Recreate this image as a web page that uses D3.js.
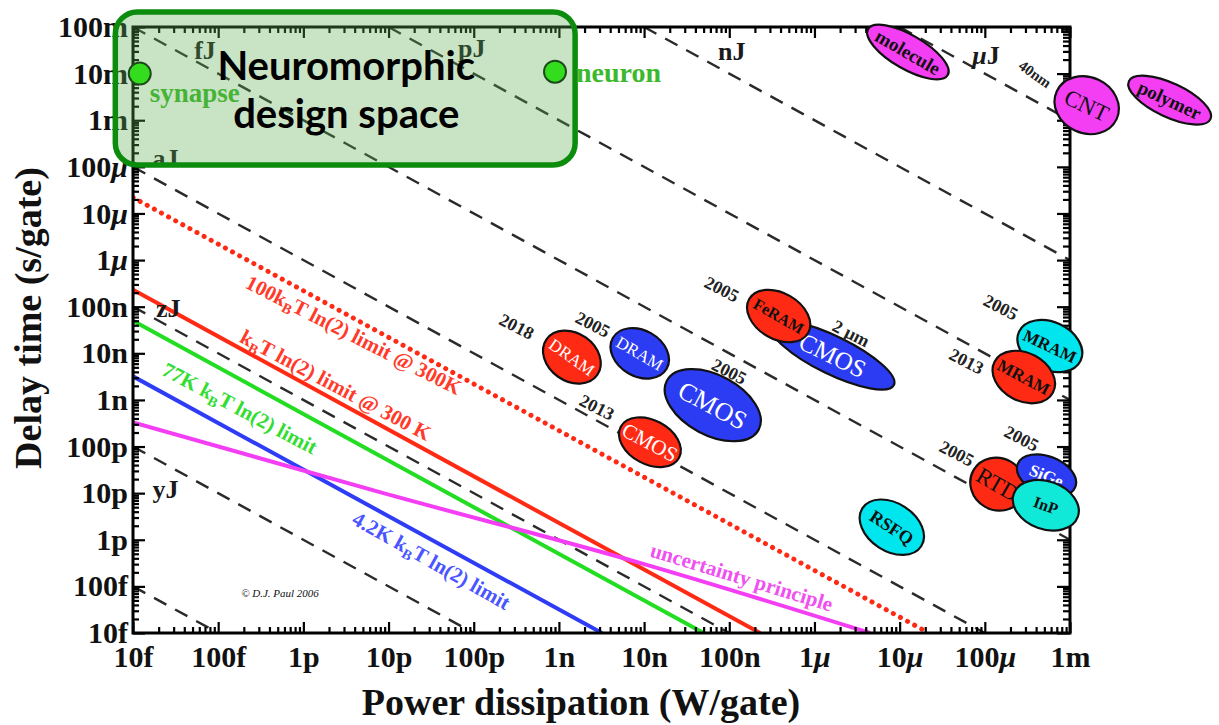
<!DOCTYPE html>
<html>
<head>
<meta charset="utf-8">
<script src="https://cdn.jsdelivr.net/npm/d3@7"></script>
<style>
  body { margin: 0; background: #fff; }
  svg text { font-family: "Liberation Serif", "Times New Roman", serif; }
</style>
</head>
<body>
<div id="chart"></div>
<script>
// ---- data ----
// decade ticks (exponents) and their labels
const tickExp = [-14, -13, -12, -11, -10, -9, -8, -7, -6, -5, -4, -3, -2, -1];
const tickLabels = ["10f", "100f", "1p", "10p", "100p", "1n", "10n", "100n", "1μ", "10μ", "100μ", "1m", "10m", "100m"];

// constant energy lines (J), every 3 decades
const energyLevels = [1e-27, 1e-24, 1e-21, 1e-18, 1e-15, 1e-12, 1e-9, 1e-6];
const energyNames = ["yJ", "zJ", "aJ", "fJ", "pJ", "nJ", "μJ"];
const energyLabelP = [2.4e-14, 2.6e-14, 2.4e-14, 7.0e-14, 9.5e-11, 1.07e-7, 1.03e-4];
const energyLabelT = [1.22e-11, 9.3e-8, 1.55e-4, 3.2e-2, 3.5e-2, 3.1e-2, 2.5e-2];

// switching energy limits (J)
const limitNames = ["100k_BT ln(2) limit @ 300K", "k_BT ln(2) limit @ 300 K", "77K k_BT ln(2) limit", "4.2K k_BT ln(2) limit"];
const limitEnergy = [2.2e-19, 2.3e-21, 5.0e-22, 3.2e-23];
const limitLabelP = [3.9e-12, 2.4e-12, 1.8e-13, 3.2e-11];
const limitLabelT = [2.5e-8, 2.1e-9, 6.7e-10, 3.6e-13];

// uncertainty principle curve
const uncertP = [1e-14, 7.9e-12, 8.9e-9, 4.5e-6];
const uncertT = [3.3e-10, 1.05e-11, 3.2e-13, 1e-14];
const uncertLabel = { name: "uncertainty principle", p: 1.4e-7, t: 1.6e-13 };

// technologies
const techNames = ["molecule", "CNT", "polymer", "DRAM", "DRAM", "CMOS", "CMOS", "CMOS", "FeRAM", "MRAM", "MRAM", "RTD", "SiGe", "InP", "RSFQ"];
const techPower = [1.25e-5, 1.57e-3, 1.48e-2, 1.42e-9, 8.9e-9, 6.4e-8, 1.17e-8, 1.64e-6, 3.8e-7, 5.8e-4, 2.87e-4, 1.42e-4, 5.3e-4, 5.2e-4, 8.1e-6];
const techDelay = [2.9e-2, 2.1e-3, 2.7e-3, 8.3e-9, 1.0e-8, 7.7e-10, 1.24e-10, 9.1e-9, 6.3e-8, 1.43e-8, 3.1e-9, 1.56e-11, 2.4e-11, 5.5e-12, 1.86e-12];

// year / node annotations
const noteText = ["2018", "2005", "2005", "2013", "2005", "2 μm", "2005", "2013", "2005", "2005", "40nm"];
const noteP = [3.2e-10, 2.5e-9, 1.0e-7, 2.8e-9, 8.2e-8, 2.7e-6, 1.54e-4, 6.1e-5, 2.7e-4, 4.7e-5, 3.9e-4];
const noteT = [3.8e-8, 4.2e-8, 4.1e-9, 7.0e-10, 2.4e-7, 2.7e-8, 9.8e-8, 6.8e-9, 1.5e-10, 7.2e-11, 9.8e-3];

// neuromorphic region
const neuroNames = ["synapse", "neuron"];
const neuroP = [1.2e-14, 0.9e-9];
const neuroT = [1.0e-2, 1.1e-2];
const boxP = [6.2e-15, 1.55e-9];
const boxT = [1.1e-4, 0.21];

// ---- styles ----
const RED = "#ff2a14", BLUE = "#2b3cf2", MAGENTA = "#f43ef4", CYAN = "#00e6ee";
const techStyle = [ // fill, text colour, rx, ry, angle, font size, bold
  [MAGENTA, "#111", 46, 17, 30, 19, true],
  [MAGENTA, "#111", 33, 28, 25, 23, false],
  [MAGENTA, "#111", 45, 17, 25, 19, true],
  [RED, "#fff", 31, 24, 35, 17, false],
  [BLUE, "#fff", 31, 23, 30, 17, false],
  [BLUE, "#fff", 52, 30, 28, 26, false],
  [RED, "#fff", 33, 22, 28, 21, false],
  [BLUE, "#fff", 68, 19, 26, 25, false],
  [RED, "#111", 34, 23, 30, 16, true],
  [CYAN, "#111", 34, 24, 25, 17, true],
  [RED, "#111", 33, 24, 28, 17, true],
  [RED, "#111", 28, 26, 30, 23, false],
  [BLUE, "#fff", 31, 19, 22, 17, true],
  ["#10e8d8", "#111", 34, 24, 20, 16, true],
  [CYAN, "#111", 35, 24, 33, 18, true]
];
const limitColor = [RED, RED, "#22dd22", "#2f3cf5"];
const limitLabelColor = ["#ff3a2a", "#ff3a2a", "#33dd33", "#4a55ff"];

const W = 1219, H = 725;
const X0 = 133, X1 = 1070, Y0 = 27, Y1 = 633;

const svg = d3.select("#chart").append("svg").attr("width", W).attr("height", H);
const x = d3.scaleLog().domain([1e-14, 1e-3]).range([X0, X1]);
const y = d3.scaleLog().domain([1e-14, 1e-1]).range([Y1, Y0]);

svg.append("clipPath").attr("id", "plotclip")
  .append("rect").attr("x", X0).attr("y", Y0).attr("width", X1 - X0).attr("height", Y1 - Y0);

const line = d3.line().x(d => x(d[0])).y(d => y(d[1]));
const plot = svg.append("g").attr("clip-path", "url(#plotclip)");

// iso-energy lines t = E / P
function energySegment(E) {
  const p0 = Math.max(1e-14, E / 1e-1), p1 = Math.min(1e-3, E / 1e-14);
  return [[p0, E / p0], [p1, E / p1]];
}

plot.selectAll(".energy")
  .data(energyLevels)
  .enter()
  .append("path")
  .attr("class", "energy")
  .attr("d", d => line(energySegment(d)))
  .attr("fill", "none")
  .attr("stroke", "#2a2a2a")
  .attr("stroke-width", 2.4)
  .attr("stroke-dasharray", "14,10");

plot.selectAll(".limit")
  .data(limitEnergy)
  .enter()
  .append("path")
  .attr("class", "limit")
  .attr("d", d => line(energySegment(d)))
  .attr("fill", "none")
  .attr("stroke", (d, i) => limitColor[i])
  .attr("stroke-width", (d, i) => i === 0 ? 5 : 4)
  .attr("stroke-linecap", (d, i) => i === 0 ? "round" : "butt")
  .attr("stroke-dasharray", (d, i) => i === 0 ? "0.1,8" : null);

plot.append("path")
  .datum(uncertP.map((p, i) => [p, uncertT[i]]))
  .attr("d", line.curve(d3.curveMonotoneX))
  .attr("fill", "none")
  .attr("stroke", MAGENTA)
  .attr("stroke-width", 4);
line.curve(d3.curveLinear);

// ---- axes ----
const majorVals = tickExp.map(e => Math.pow(10, e));
const minorVals = [];
tickExp.slice(0, -1).forEach(e => { for (let k = 2; k < 10; k++) minorVals.push(k * Math.pow(10, e)); });
const labelOf = v => tickLabels[tickExp.indexOf(Math.round(Math.log10(v)))];
const xMajor = majorVals.filter(v => v <= 1e-3);
const xMinor = minorVals.filter(v => v < 1e-3);

function styleAxis(g, fmt) {
  g.select(".domain").remove();
  g.selectAll("line").attr("stroke", "#000").attr("stroke-width", 2.2);
  if (!fmt) return;
  g.selectAll("text")
    .attr("font-size", 30)
    .attr("font-weight", "bold")
    .attr("fill", "#111")
    .each(function(d) {
      const s = labelOf(d);
      const t = d3.select(this).text(null);
      if (s.includes("μ")) {
        t.append("tspan").text(s.replace("μ", ""));
        t.append("tspan").attr("font-style", "italic").text("μ");
      } else {
        t.text(s);
      }
    });
}

svg.append("g").attr("transform", `translate(0,${Y1})`)
  .call(d3.axisBottom(x).tickValues(xMajor).tickSize(-11).tickPadding(13).tickFormat(labelOf))
  .call(g => styleAxis(g, true));
svg.append("g").attr("transform", `translate(0,${Y1})`)
  .call(d3.axisBottom(x).tickValues(xMinor).tickSize(-6).tickFormat(""))
  .call(g => styleAxis(g, false));
svg.append("g").attr("transform", `translate(0,${Y0})`)
  .call(d3.axisTop(x).tickValues(xMajor).tickSize(-11).tickFormat(""))
  .call(g => styleAxis(g, false));
svg.append("g").attr("transform", `translate(0,${Y0})`)
  .call(d3.axisTop(x).tickValues(xMinor).tickSize(-6).tickFormat(""))
  .call(g => styleAxis(g, false));

svg.append("g").attr("transform", `translate(${X0},0)`)
  .call(d3.axisLeft(y).tickValues(majorVals).tickSize(-12).tickPadding(5).tickFormat(labelOf))
  .call(g => styleAxis(g, true));
svg.append("g").attr("transform", `translate(${X0},0)`)
  .call(d3.axisLeft(y).tickValues(minorVals).tickSize(-6).tickFormat(""))
  .call(g => styleAxis(g, false));
svg.append("g").attr("transform", `translate(${X1},0)`)
  .call(d3.axisRight(y).tickValues(majorVals).tickSize(-13).tickFormat(""))
  .call(g => styleAxis(g, false));
svg.append("g").attr("transform", `translate(${X1},0)`)
  .call(d3.axisRight(y).tickValues(minorVals).tickSize(-7).tickFormat(""))
  .call(g => styleAxis(g, false));

svg.append("rect")
  .attr("x", X0).attr("y", Y0).attr("width", X1 - X0).attr("height", Y1 - Y0)
  .attr("fill", "none").attr("stroke", "#000").attr("stroke-width", 3);

// axis titles
svg.append("text")
  .attr("x", 581).attr("y", 715)
  .attr("text-anchor", "middle")
  .attr("font-size", 38).attr("font-weight", "bold").attr("fill", "#111")
  .text("Power dissipation (W/gate)");
svg.append("text")
  .attr("transform", "translate(41,318) rotate(-90)")
  .attr("text-anchor", "middle")
  .attr("font-size", 38).attr("font-weight", "bold").attr("fill", "#111")
  .text("Delay time (s/gate)");

// ---- labels ----
svg.selectAll(".elabel")
  .data(energyNames)
  .enter()
  .append("text")
  .attr("class", "elabel")
  .attr("x", (d, i) => x(energyLabelP[i]))
  .attr("y", (d, i) => y(energyLabelT[i]))
  .attr("dy", "0.35em")
  .attr("text-anchor", "middle")
  .attr("font-size", 26).attr("font-weight", "bold").attr("fill", "#1a1a1a")
  .each(function(d) {
    const t = d3.select(this);
    if (d.startsWith("μ")) {
      t.append("tspan").attr("font-style", "italic").text("μ");
      t.append("tspan").text("J");
    } else t.text(d);
  });

function richText(sel, str, size) {
  // "_X" marks a subscript character
  const parts = str.split(/_(.)/);
  parts.forEach((p, i) => {
    if (!p) return;
    if (i % 2 === 1) {
      sel.append("tspan").attr("font-size", size * 0.68).attr("dy", size * 0.22).text(p);
    } else {
      const t = sel.append("tspan").text(p);
      if (i > 0) t.attr("dy", -size * 0.22);
    }
  });
}

const limitAngle = [27, 28, 28, 29.5];
limitNames.forEach((name, i) => {
  const t = svg.append("text")
    .attr("transform", `translate(${x(limitLabelP[i])},${y(limitLabelT[i])}) rotate(${limitAngle[i]})`)
    .attr("text-anchor", "middle").attr("dy", "0.35em")
    .attr("font-size", 21).attr("font-weight", "bold").attr("fill", limitLabelColor[i]);
  richText(t, name, 21);
});

svg.append("text")
  .attr("transform", `translate(${x(uncertLabel.p)},${y(uncertLabel.t)}) rotate(17)`)
  .attr("text-anchor", "middle").attr("dy", "0.35em")
  .attr("font-size", 21).attr("font-weight", "bold").attr("fill", "#f050f0")
  .text(uncertLabel.name);

svg.append("text")
  .attr("x", 280).attr("y", 597)
  .attr("text-anchor", "middle")
  .attr("font-size", 11).attr("font-style", "italic").attr("fill", "#111")
  .text("© D.J. Paul 2006");

// ---- technology ellipses ----
const tech = svg.selectAll(".tech")
  .data(techNames)
  .enter()
  .append("g")
  .attr("class", "tech")
  .attr("transform", (d, i) => `translate(${x(techPower[i])},${y(techDelay[i])}) rotate(${techStyle[i][4]})`);

tech.append("ellipse")
  .attr("rx", (d, i) => techStyle[i][2])
  .attr("ry", (d, i) => techStyle[i][3])
  .attr("fill", (d, i) => techStyle[i][0])
  .attr("stroke", "#111")
  .attr("stroke-width", 2.2);

tech.append("text")
  .attr("text-anchor", "middle").attr("dy", "0.35em")
  .attr("font-size", (d, i) => techStyle[i][5])
  .attr("font-weight", (d, i) => techStyle[i][6] ? "bold" : "normal")
  .attr("fill", (d, i) => techStyle[i][1])
  .text(d => d);

svg.selectAll(".note")
  .data(noteText)
  .enter()
  .append("text")
  .attr("class", "note")
  .attr("transform", (d, i) => `translate(${x(noteP[i])},${y(noteT[i])}) rotate(${i === 10 ? 35 : 27})`)
  .attr("text-anchor", "middle").attr("dy", "0.35em")
  .attr("font-size", (d, i) => i === 10 ? 15 : 18)
  .attr("font-weight", "bold").attr("fill", "#222")
  .text(d => d);

// ---- neuromorphic design space ----
svg.append("text")
  .attr("x", x(neuroP[0]) + 10).attr("y", y(neuroT[0]) + 28)
  .attr("font-size", 27).attr("font-weight", "bold").attr("fill", "#3cb82c")
  .text(neuroNames[0]);

const bx0 = x(boxP[0]), bx1 = x(boxP[1]), by0 = y(boxT[1]), by1 = y(boxT[0]);
svg.append("rect")
  .attr("x", bx0).attr("y", by0).attr("width", bx1 - bx0).attr("height", by1 - by0)
  .attr("rx", 22)
  .attr("fill", "rgb(90,170,80)").attr("fill-opacity", 0.33)
  .attr("stroke", "#0c8c0c").attr("stroke-width", 5.5);

svg.selectAll(".neuro")
  .data(neuroNames)
  .enter()
  .append("circle")
  .attr("class", "neuro")
  .attr("cx", (d, i) => x(neuroP[i]))
  .attr("cy", (d, i) => y(neuroT[i]))
  .attr("r", 11)
  .attr("fill", "#33dd1e")
  .attr("stroke", "#1d4a1a")
  .attr("stroke-width", 2);

svg.append("text")
  .attr("x", x(neuroP[1]) + 21).attr("y", y(neuroT[1]) + 10)
  .attr("font-size", 28).attr("font-weight", "bold").attr("fill", "#3cb82c")
  .text(neuroNames[1]);

const boxText = svg.append("text")
  .attr("text-anchor", "middle")
  .style("font-family", "Lato, 'Open Sans', sans-serif")
  .attr("font-size", 40).attr("font-weight", "bold").attr("fill", "#000");
boxText.append("tspan").attr("x", (bx0 + bx1) / 2 + 1).attr("y", (by0 + by1) / 2 - 8).text("Neuromorphic");
boxText.append("tspan").attr("x", (bx0 + bx1) / 2 + 1).attr("y", (by0 + by1) / 2 + 40).text("design space");
</script>
</body>
</html>
